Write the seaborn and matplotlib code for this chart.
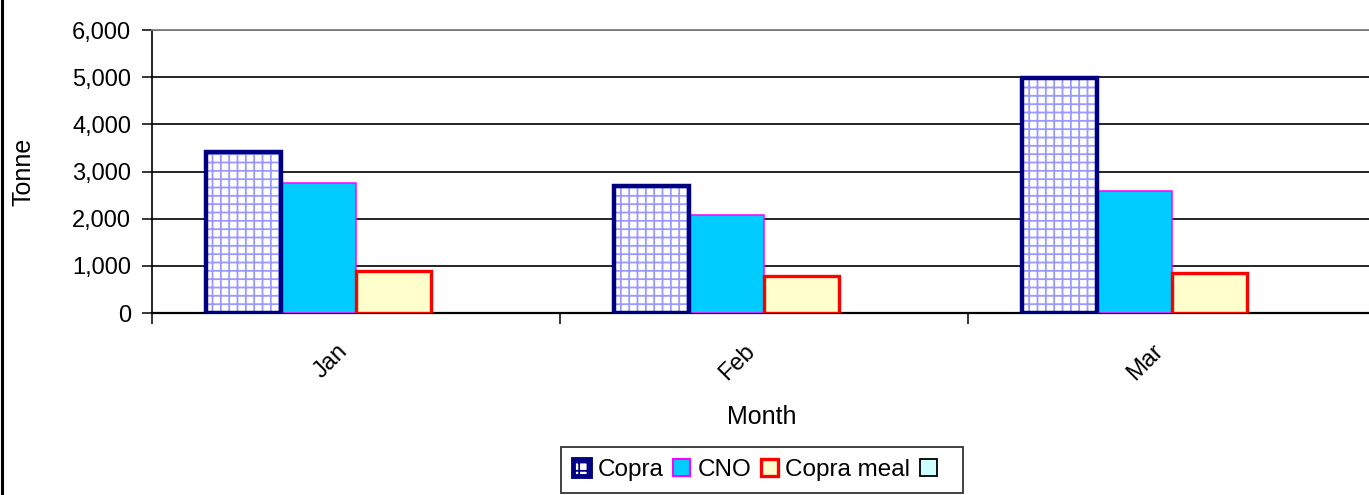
import matplotlib
matplotlib.use("Agg")
import matplotlib.pyplot as plt
from matplotlib.patches import Patch, Rectangle
from matplotlib.lines import Line2D
from matplotlib.ticker import StrMethodFormatter, FixedLocator
from matplotlib.transforms import ScaledTranslation
import seaborn as sns
import pandas as pd

# Monthly volumes (tonnes)
months = ["Jan", "Feb", "Mar"]
series_names = ["Copra", "CNO", "Copra meal", " "]
copra = [3410, 2700, 4975]
cno = [2760, 2075, 2585]
copra_meal = [900, 775, 850]
other = [0, 0, 0]

values = [copra, cno, copra_meal, other]
df = pd.DataFrame(
    [(m, name, v) for name, vals in zip(series_names, values) for m, v in zip(months, vals)],
    columns=["Month", "Series", "Tonne"],
)

sns.set_theme(style="white")
plt.rcParams["font.family"] = ["Liberation Sans", "DejaVu Sans"]
plt.rcParams["hatch.linewidth"] = 1.3
plt.rcParams["text.color"] = "black"
plt.rcParams["axes.labelcolor"] = "black"
plt.rcParams["xtick.color"] = "black"
plt.rcParams["ytick.color"] = "black"

fig = plt.figure(figsize=(13.69, 4.95), dpi=100)
ax = fig.add_axes([152 / 1369, 1 - 313 / 495, (1376 - 152) / 1369, (313 - 30) / 495])

sns.barplot(data=df, x="Month", y="Tonne", hue="Series", hue_order=series_names,
            order=months, width=0.735, saturation=1, legend=False, ax=ax, zorder=3)

styles = [
    dict(facecolor="white", edgecolor="#000080", lw=3.2),
    dict(facecolor="#00CCFF", edgecolor="#FF00FF", lw=1.1),
    dict(facecolor="#FFFFCC", edgecolor="#FF0000", lw=2.4),
    dict(facecolor="#CCFFFF", edgecolor="black", lw=1.0),
]

for i, (cont, st) in enumerate(zip(ax.containers, styles)):
    for p in cont.patches:
        if i == 0:
            # checked fill drawn as hatch, outline as a separate frame on top
            p.set_facecolor("white")
            p.set_edgecolor("#9999FF")
            p.set_hatch("++")
            p.set_linewidth(0)
            ax.add_patch(Rectangle((p.get_x(), p.get_y()), p.get_width(), p.get_height(),
                                   fill=False, edgecolor=st["edgecolor"], lw=st["lw"],
                                   joinstyle="miter", zorder=4))
        else:
            p.set_facecolor(st["facecolor"])
            p.set_edgecolor(st["edgecolor"])
            p.set_linewidth(st["lw"] if p.get_height() > 0 else 0)
            p.set_joinstyle("miter")

ax.set_xlim(-0.5, 2.5)
ax.set_ylim(0, 6000)
ax.yaxis.set_major_locator(FixedLocator([0, 1000, 2000, 3000, 4000, 5000, 6000]))
ax.yaxis.set_major_formatter(StrMethodFormatter("{x:,.0f}"))

ax.yaxis.grid(True, color="black", lw=1.2, zorder=0)
ax.set_axisbelow(True)
ax.spines["right"].set_visible(False)
ax.spines["top"].set_color("#808080")
ax.spines["top"].set_linewidth(1.3)
ax.spines["left"].set_color("black")
ax.spines["left"].set_linewidth(1.2)
ax.spines["bottom"].set_color("black")
ax.spines["bottom"].set_linewidth(1.6)

ax.tick_params(axis="y", which="major", direction="out", length=7, width=1.1,
               color="black", left=True, labelsize=17, pad=8)
ax.tick_params(axis="x", which="major", length=0, labelsize=17, pad=20)
ax.set_xticks(range(len(months)))
ax.set_xticklabels(months, rotation=45, ha="right", rotation_mode="anchor")
shift = ScaledTranslation(-20 / 100, 1 / 100, fig.dpi_scale_trans)
for lab in ax.get_xticklabels():
    lab.set_transform(lab.get_transform() + shift)
ax.xaxis.set_minor_locator(FixedLocator([-0.5, 0.5, 1.5, 2.5]))
ax.tick_params(axis="x", which="minor", direction="out", length=8, width=1.1,
               color="black", bottom=True)

ax.set_ylabel("Tonne", fontsize=18)
ax.set_xlabel("Month", fontsize=18)
ax.yaxis.set_label_coords(-(152 - 35) / 1224, 0.5)
ax.xaxis.set_label_coords((762 - 152) / 1224, -(405 - 313) / 283)

handles = [
    Patch(facecolor="white", edgecolor="#000080", lw=3.5, hatch="++"),
    Patch(facecolor="#00CCFF", edgecolor="#FF00FF", lw=1.5),
    Patch(facecolor="#FFFFCC", edgecolor="#FF0000", lw=2.4),
    Patch(facecolor="#CCFFFF", edgecolor="black", lw=1.3),
]
leg = fig.legend(handles, series_names, loc="center", bbox_to_anchor=(762 / 1369, 1 - 470 / 495),
                 ncol=4, fontsize=17.5, frameon=True, fancybox=False, handlelength=0.7,
                 handleheight=0.7, handletextpad=0.3, columnspacing=0.4, borderpad=0.5)
leg.get_frame().set_edgecolor("black")
leg.get_frame().set_linewidth(1.3)

# chart frame edge
fig.add_artist(Line2D([0.0012, 0.0012], [0, 1], color="black", lw=2.2, transform=fig.transFigure))

fig.savefig("out.png", dpi=100)
